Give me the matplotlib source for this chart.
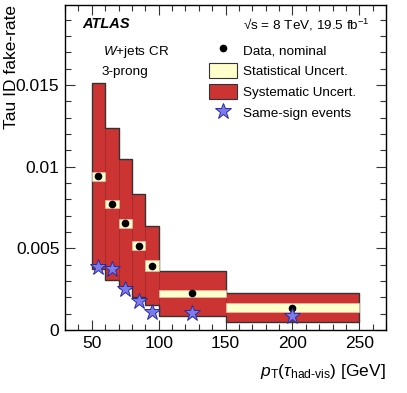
import matplotlib
matplotlib.use('Agg')
import matplotlib.pyplot as plt
from matplotlib.lines import Line2D
from matplotlib.patches import Patch
from matplotlib.ticker import MultipleLocator, FuncFormatter
import numpy as np

plt.rcParams['font.family'] = ['Liberation Sans', 'DejaVu Sans']
plt.rcParams['mathtext.fontset'] = 'custom'
plt.rcParams['mathtext.rm'] = 'Liberation Sans'
plt.rcParams['mathtext.it'] = 'Liberation Sans:italic'

# bins in pT [GeV]
edges = np.array([50, 60, 70, 80, 90, 100, 150, 250])
centers = np.array([55, 65, 75, 85, 95, 125, 200])

# fake rate, nominal
rate = [0.00943, 0.00772, 0.00653, 0.00516, 0.00394, 0.00225, 0.00137]
stat_lo = [0.00914, 0.00745, 0.00627, 0.00490, 0.00363, 0.00204, 0.00108]
stat_hi = [0.00969, 0.00796, 0.00680, 0.00543, 0.00429, 0.00245, 0.00163]
sys_lo = [0.00372, 0.00306, 0.00255, 0.00204, 0.00151, 0.00086, 0.00047]
sys_hi = [0.01510, 0.01239, 0.01049, 0.00831, 0.00637, 0.00363, 0.00225]
same_sign = [0.00388, 0.00376, 0.00249, 0.00180, 0.00108, 0.00106, 0.00086]

red = '#cc3333'
cream = '#ffffcc'

fig = plt.figure(figsize=(4.07, 3.93), dpi=100)
ax = fig.add_axes([65 / 407, 63 / 393, 321 / 407, 325 / 393])

widths = np.diff(edges)
ax.bar(edges[:-1], np.subtract(sys_hi, sys_lo), width=widths, bottom=sys_lo,
       align='edge', color=red, edgecolor='#a52a2a', linewidth=0.6, zorder=1)
ax.stairs(sys_hi, edges, baseline=sys_lo, fill=False, color='#333333',
          linewidth=1.0, zorder=2)
ax.bar(edges[:-1], np.subtract(stat_hi, stat_lo), width=widths, bottom=stat_lo,
       align='edge', color=cream, edgecolor='#e8b8a8', linewidth=0.5, zorder=3)
ax.plot(centers, rate, 'o', color='black', markersize=4.5, zorder=4)
ax.plot(centers, same_sign, '*', color='#7b7bea', markeredgecolor='#2a2aa0',
        markeredgewidth=0.7, markersize=12, zorder=5)

ax.set_xlim(30, 270)
ax.set_ylim(0, 0.0199)
ax.xaxis.set_major_locator(MultipleLocator(50))
ax.xaxis.set_minor_locator(MultipleLocator(10))
ax.yaxis.set_major_locator(MultipleLocator(0.005))
ax.yaxis.set_minor_locator(MultipleLocator(0.001))
ax.yaxis.set_major_formatter(FuncFormatter(lambda v, p: '%g' % round(v, 4)))
ax.tick_params(which='both', direction='in', top=True, right=True,
               labelsize=12.5, width=0.8, color='#333333', pad=4)
ax.tick_params(which='major', length=7)
ax.tick_params(which='minor', length=4)
for s in ax.spines.values():
    s.set_linewidth(1.0)

ax.set_ylabel('Tau ID fake-rate', fontsize=12.5, loc='top')
ax.yaxis.set_label_coords(-0.143, 1.0)
ax.set_xlabel(r'$p_\mathrm{T}(\tau_\mathrm{had\text{-}vis})$ [GeV]',
              fontsize=12.5, loc='right', labelpad=8)

ax.text(0.053, 0.94, 'ATLAS', transform=ax.transAxes, fontsize=10.5,
        fontweight='bold', fontstyle='italic', va='center')
ax.text(0.95, 0.94, '\u221as = 8 TeV, 19.5 fb$^{-1}$',
        transform=ax.transAxes, fontsize=9.7, ha='right', va='center')
ax.text(0.118, 0.855, r'$W$+jets CR', transform=ax.transAxes, fontsize=9.7,
        va='center')
ax.text(0.113, 0.794, '3-prong', transform=ax.transAxes, fontsize=9.7,
        va='center')

handles = [
    Line2D([], [], marker='o', color='black', linestyle='none', markersize=4.5),
    Patch(facecolor=cream, edgecolor='#333333', linewidth=0.8),
    Patch(facecolor=red, edgecolor='#333333', linewidth=0.8),
    Line2D([], [], marker='*', color='#7b7bea', markeredgecolor='#2a2aa0',
           markeredgewidth=0.7, linestyle='none', markersize=12),
]
labels = ['Data, nominal', 'Statistical Uncert.', 'Systematic Uncert.',
          'Same-sign events']
ax.legend(handles, labels, loc='upper left', bbox_to_anchor=(0.449, 0.885),
          frameon=False, fontsize=9.7, handlelength=2.1, handleheight=1.35,
          labelspacing=0.42, handletextpad=0.45, borderpad=0, borderaxespad=0)

plt.savefig('out.png', dpi=100)
